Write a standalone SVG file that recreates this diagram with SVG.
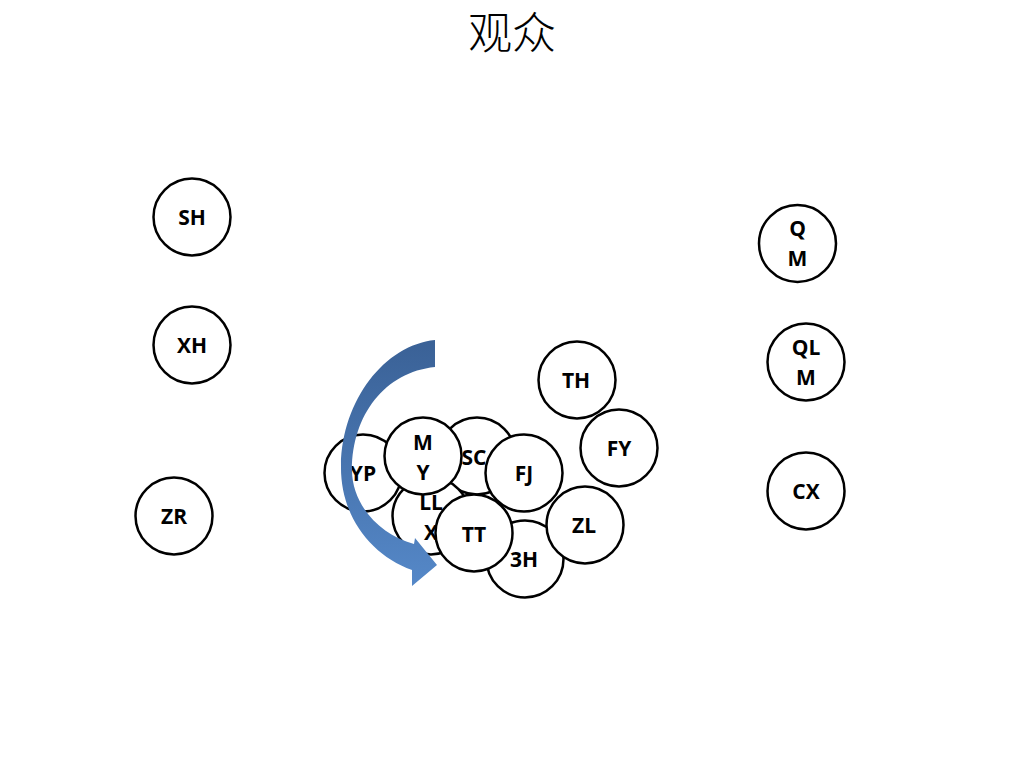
<svg xmlns="http://www.w3.org/2000/svg" width="1024" height="768" viewBox="0 0 1024 768">
<style>
.node circle{fill:#fff;stroke:#000;stroke-width:2.5}
.node text{font-family:"Open Sans","Liberation Sans",sans-serif;font-weight:bold;font-size:21px;text-anchor:middle;dominant-baseline:central;fill:#000}
.title{font-family:"Noto Sans CJK SC",sans-serif;font-weight:300;font-size:44px;text-anchor:middle;fill:#000}
</style>
<defs>
<linearGradient id="ag" x1="0" y1="0" x2="0" y2="1">
<stop offset="0" stop-color="#3a6196"/>
<stop offset="1" stop-color="#5588c8"/>
</linearGradient>
</defs>
<rect width="1024" height="768" fill="#fff"/>
<text class="title" x="512" y="49">观众</text>

<g id="node-SH" class="node"><circle cx="192" cy="217" r="38.5"/><text x="192" y="217">SH</text></g>
<g id="node-XH" class="node"><circle cx="192" cy="345" r="38.5"/><text x="192" y="345">XH</text></g>
<g id="node-ZR" class="node"><circle cx="174" cy="516" r="38.5"/><text x="174" y="516">ZR</text></g>
<g id="node-QM" class="node"><circle cx="797.5" cy="243.5" r="38.5"/><text x="797.5" y="228">Q</text><text x="797.5" y="258">M</text></g>
<g id="node-QLM" class="node"><circle cx="806" cy="362" r="38.5"/><text x="806" y="347">QL</text><text x="806" y="377">M</text></g>
<g id="node-CX" class="node"><circle cx="806" cy="491" r="38.5"/><text x="806" y="491">CX</text></g>

<g id="node-TH" class="node"><circle cx="577" cy="380" r="38.5"/><text x="576" y="380">TH</text></g>
<g id="node-FY" class="node"><circle cx="619" cy="448" r="38.5"/><text x="619" y="448">FY</text></g>
<g id="node-SC" class="node"><circle cx="477" cy="456" r="38.5"/><text x="474" y="457">SC</text></g>
<g id="node-LLX" class="node"><circle cx="431" cy="516" r="38.5"/><text x="431" y="502">LL</text><text x="431" y="532">X</text></g>
<g id="node-3H" class="node"><circle cx="525" cy="559" r="38.5"/><text x="524" y="559">3H</text></g>
<g id="node-YP" class="node"><circle cx="363" cy="473" r="38.5"/><text x="363" y="473">YP</text></g>
<g id="node-MY" class="node"><circle cx="423" cy="456" r="38.5"/><text x="423" y="442">M</text><text x="423" y="472">Y</text></g>
<g id="node-FJ" class="node"><circle cx="524" cy="473" r="38.5"/><text x="524" y="473">FJ</text></g>
<g id="node-ZL" class="node"><circle cx="585" cy="525" r="38.5"/><text x="584" y="525">ZL</text></g>

<g id="connectors">
<path d="M435,340 C385,345 342,400 341,465 C340,515 370,555 412,570 L412,586 L437,565 L415,538 L414,544 C380,535 352,505 352,470 C352,415 385,372 435,367 Z" fill="url(#ag)"/>
</g>

<g id="node-TT" class="node"><circle cx="474" cy="533" r="38.5"/><text x="474" y="534">TT</text></g>
</svg>
